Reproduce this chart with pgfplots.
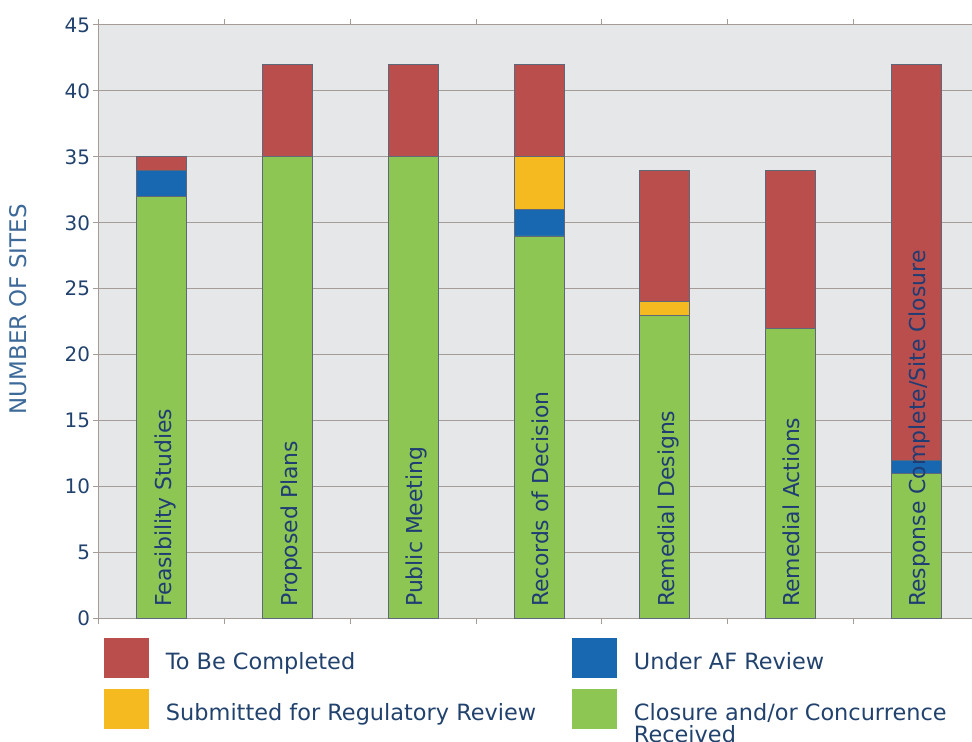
\documentclass[border=0pt]{standalone}
\usepackage{pgfplots}
\pgfplotsset{compat=1.18}
\usepackage{pgfplotstable}
\usepackage{fontspec}
\setmainfont{DejaVu Sans}
\definecolor{cRed}{HTML}{B94E4C}
\definecolor{cBlue}{HTML}{1868B1}
\definecolor{cYel}{HTML}{F4BA1F}
\definecolor{cGrn}{HTML}{8DC652}
\definecolor{cTxt}{HTML}{22426E}
\definecolor{cCat}{HTML}{1F3C74}
\definecolor{cLab}{HTML}{3D6A98}
\definecolor{cGrid}{HTML}{A59B97}
\definecolor{cBg}{HTML}{E6E7E9}
\definecolor{cEdge}{HTML}{5E6878}

\tikzset{catlabel/.style={xshift=9.5bp, rotate=90, anchor=base west, inner sep=0pt, font=\fontsize{22}{26}\selectfont, text=cCat}}

\pgfplotstableread{
x green blue yellow red
0 32 2 0 1
1 35 0 0 7
2 35 0 0 7
3 29 2 4 7
4 23 0 1 10
5 22 0 0 12
6 11 1 0 30
}\datatable

\begin{document}
\begin{tikzpicture}
\begin{axis}[
  scale only axis, width=880bp, height=593.3bp,
  xmin=-0.5, xmax=6.5, ymin=0, ymax=45,
  ybar stacked, bar width=50bp,
  ytick={0,5,...,45},
  xtick={-0.5,0.5,...,6.5},
  xticklabels={},
  xticklabel style={opacity=0},
  tick align=outside,
  major tick length=5.5bp,
  xtick style={cGrid, line width=1bp},
  ytick style={cGrid, line width=1bp},
  ymajorgrids,
  major grid style={cGrid, line width=1bp},
  axis line style={cGrid, line width=1bp},
  axis background/.style={fill=cBg},
  yticklabel style={font=\fontsize{20}{24}\selectfont, text=cTxt, /pgf/number format/assume math mode=true},
  ylabel={NUMBER OF SITES},
  ylabel style={at={(axis description cs:-0.0915,0.521)}, anchor=center, font=\fontsize{23}{26}\selectfont, text=cLab},
  legend image code/.code={\fill[#1,draw=none] (0bp,-8.5bp) rectangle (45bp,31.5bp);},
  legend columns=2,
  legend style={at={(axis description cs:0,0)}, anchor=north west, xshift=5bp, yshift=-19.7bp,
    draw=none, fill=none, inner sep=0pt, outer sep=0pt, row sep=11bp,
    font=\fontsize{22.5}{22}\selectfont, text=cTxt,
    cells={anchor=base west, inner sep=0pt},
    /tikz/every odd column/.style={column sep=15bp},
    /tikz/every even column/.style={column sep=0bp}},
]
\addlegendimage{fill=cRed}
\addlegendentry{\parbox[t]{404bp}{To Be Completed}}
\addlegendimage{fill=cBlue}
\addlegendentry{\parbox[t]{404bp}{Under AF Review}}
\addlegendimage{fill=cYel}
\addlegendentry{\parbox[t]{404bp}{Submitted for Regulatory Review}}
\addlegendimage{fill=cGrn}
\addlegendentry{\parbox[t]{404bp}{Closure and/or Concurrence\\Received}}

\addplot[fill=cGrn, draw=cEdge, line width=0.8bp] table[x=x,y=green]{\datatable};
\addplot[fill=cBlue, draw=cEdge, line width=0.8bp] table[x=x,y=blue]{\datatable};
\addplot[fill=cYel, draw=cEdge, line width=0.8bp] table[x=x,y=yellow]{\datatable};
\addplot[fill=cRed, draw=cEdge, line width=0.8bp] table[x=x,y=red]{\datatable};

\coordinate (c0) at (axis cs:0,0.86);
\coordinate (c1) at (axis cs:1,0.86);
\coordinate (c2) at (axis cs:2,0.86);
\coordinate (c3) at (axis cs:3,0.86);
\coordinate (c4) at (axis cs:4,0.86);
\coordinate (c5) at (axis cs:5,0.86);
\coordinate (c6) at (axis cs:6,0.86);
\end{axis}
\node[catlabel] at (c0) {Feasibility Studies};
\node[catlabel] at (c1) {Proposed Plans};
\node[catlabel] at (c2) {Public Meeting};
\node[catlabel] at (c3) {Records of Decision};
\node[catlabel] at (c4) {Remedial Designs};
\node[catlabel] at (c5) {Remedial Actions};
\node[catlabel] at (c6) {Response Complete/Site Closure};
\pgfresetboundingbox
\path[use as bounding box] (-99bp,-123.7bp) rectangle (873bp,618.3bp);
\end{tikzpicture}
\end{document}
